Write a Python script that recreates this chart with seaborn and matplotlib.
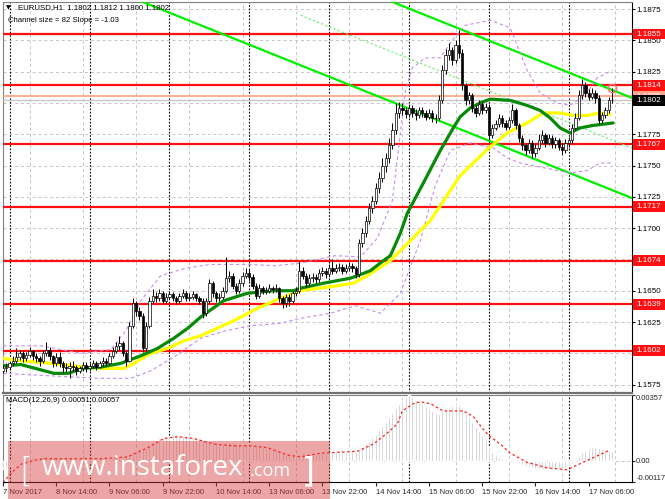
import matplotlib
matplotlib.use("Agg")
import matplotlib.pyplot as plt
import matplotlib.transforms as mtransforms
from matplotlib.patches import Rectangle
import seaborn as sns

# ---- price bars (EURUSD H1), bar 0 = 7 Nov 22:00 ----
first_open = 1.1586
closes = [
    1.1588, 1.1589, 1.1592, 1.1594, 1.1597, 1.1600, 1.1596, 1.1599, 1.1602, 1.1598,
    1.1596, 1.1594, 1.1600, 1.1603, 1.1598, 1.1592, 1.1597, 1.1592, 1.1589, 1.1588,
    1.1590, 1.1589, 1.1586, 1.1588, 1.1591, 1.1588, 1.1590, 1.1592, 1.1589, 1.1592,
    1.1594, 1.1592, 1.1598, 1.1602, 1.1606, 1.1608, 1.1600, 1.1594, 1.1622, 1.1640,
    1.1634, 1.1630, 1.1604, 1.1622, 1.1642, 1.1646, 1.1644, 1.1648, 1.1642, 1.1645,
    1.1647, 1.1644, 1.1642, 1.1646, 1.1648, 1.1644, 1.1645, 1.1647, 1.1644, 1.1642,
    1.1632, 1.1642, 1.1656, 1.1648, 1.1644, 1.1645, 1.1650, 1.1660, 1.1662, 1.1654,
    1.1650, 1.1656, 1.1662, 1.1664, 1.1661, 1.1654, 1.1646, 1.1652, 1.1650, 1.1650,
    1.1652, 1.1651, 1.1652, 1.1644, 1.1640, 1.1645, 1.1642, 1.1648, 1.1650, 1.1666,
    1.1662, 1.1656, 1.1660, 1.1661, 1.1659, 1.1664, 1.1666, 1.1663, 1.1668, 1.1666,
    1.1668, 1.1669, 1.1666, 1.1668, 1.1670, 1.1668, 1.1663, 1.1688, 1.1696, 1.1706,
    1.1716, 1.1722, 1.1732, 1.1740, 1.1750, 1.1756, 1.1766, 1.1778, 1.1792, 1.1796,
    1.1794, 1.1791, 1.1796, 1.1792, 1.1790, 1.1794, 1.1792, 1.1789, 1.1792, 1.1788,
    1.1788, 1.1802, 1.1826, 1.1838, 1.1842, 1.1834, 1.1846, 1.1840, 1.1814, 1.1802,
    1.1806, 1.1796, 1.1792, 1.1799, 1.1794, 1.1797, 1.1774, 1.1780, 1.1783, 1.1788,
    1.1784, 1.1781, 1.1786, 1.1794, 1.1782, 1.1772, 1.1766, 1.1762, 1.1768, 1.1760,
    1.1764, 1.1770, 1.1774, 1.1768, 1.1772, 1.1767, 1.1770, 1.1765, 1.1762, 1.1768,
    1.1770, 1.1780, 1.1788, 1.1806, 1.1814, 1.1808, 1.1805, 1.1808, 1.1804, 1.1786,
    1.1790, 1.1794, 1.1802, 1.1802]
highs = [
    1.1591, 1.1592, 1.1594, 1.1598, 1.1604, 1.1603, 1.1602, 1.1601, 1.1605, 1.1603,
    1.1600, 1.1598, 1.1603, 1.1609, 1.1605, 1.1599, 1.1600, 1.1601, 1.1594, 1.1592,
    1.1593, 1.1594, 1.1591, 1.1590, 1.1593, 1.1593, 1.1592, 1.1595, 1.1594, 1.1594,
    1.1597, 1.1596, 1.1600, 1.1605, 1.1609, 1.1614, 1.1610, 1.1602, 1.1625, 1.1644,
    1.1642, 1.1637, 1.1632, 1.1625, 1.1645, 1.1651, 1.1649, 1.1651, 1.1650, 1.1648,
    1.1650, 1.1649, 1.1646, 1.1648, 1.1651, 1.1650, 1.1648, 1.1650, 1.1648, 1.1646,
    1.1644, 1.1644, 1.1659, 1.1658, 1.1650, 1.1648, 1.1653, 1.1677, 1.1666, 1.1664,
    1.1656, 1.1659, 1.1665, 1.1668, 1.1667, 1.1663, 1.1656, 1.1655, 1.1654, 1.1653,
    1.1655, 1.1654, 1.1655, 1.1653, 1.1646, 1.1647, 1.1647, 1.1650, 1.1653, 1.1674,
    1.1669, 1.1664, 1.1663, 1.1664, 1.1663, 1.1667, 1.1669, 1.1668, 1.1671, 1.1675,
    1.1671, 1.1672, 1.1671, 1.1671, 1.1673, 1.1672, 1.1670, 1.1691, 1.1700, 1.1710,
    1.1720, 1.1726, 1.1736, 1.1745, 1.1756, 1.1760, 1.1772, 1.1784, 1.1800, 1.1801,
    1.1800, 1.1797, 1.1799, 1.1798, 1.1795, 1.1797, 1.1797, 1.1794, 1.1795, 1.1794,
    1.1791, 1.1806, 1.1830, 1.1843, 1.1848, 1.1845, 1.1850, 1.1858, 1.1843, 1.1816,
    1.1809, 1.1808, 1.1798, 1.1802, 1.1801, 1.1800, 1.1799, 1.1783, 1.1786, 1.1791,
    1.1790, 1.1786, 1.1789, 1.1799, 1.1796, 1.1784, 1.1774, 1.1768, 1.1771, 1.1770,
    1.1767, 1.1775, 1.1778, 1.1776, 1.1775, 1.1774, 1.1773, 1.1772, 1.1768, 1.1771,
    1.1773, 1.1783, 1.1792, 1.1810, 1.1819, 1.1817, 1.1811, 1.1812, 1.1810, 1.1806,
    1.1793, 1.1797, 1.1805, 1.1812]
lows = [
    1.1584, 1.1585, 1.1587, 1.1590, 1.1592, 1.1595, 1.1593, 1.1594, 1.1597, 1.1595,
    1.1593, 1.1590, 1.1592, 1.1598, 1.1595, 1.1589, 1.1590, 1.1589, 1.1584, 1.1585,
    1.1580, 1.1586, 1.1583, 1.1584, 1.1586, 1.1585, 1.1586, 1.1588, 1.1587, 1.1588,
    1.1590, 1.1590, 1.1591, 1.1596, 1.1600, 1.1603, 1.1598, 1.1590, 1.1593, 1.1620,
    1.1630, 1.1627, 1.1601, 1.1602, 1.1620, 1.1640, 1.1641, 1.1642, 1.1640, 1.1640,
    1.1643, 1.1642, 1.1639, 1.1640, 1.1644, 1.1642, 1.1642, 1.1643, 1.1642, 1.1639,
    1.1628, 1.1630, 1.1640, 1.1645, 1.1641, 1.1642, 1.1643, 1.1648, 1.1657, 1.1651,
    1.1647, 1.1648, 1.1654, 1.1660, 1.1658, 1.1651, 1.1643, 1.1644, 1.1647, 1.1647,
    1.1648, 1.1648, 1.1649, 1.1641, 1.1636, 1.1637, 1.1638, 1.1640, 1.1646, 1.1648,
    1.1659, 1.1653, 1.1654, 1.1657, 1.1656, 1.1657, 1.1662, 1.1660, 1.1661, 1.1663,
    1.1664, 1.1666, 1.1663, 1.1664, 1.1666, 1.1665, 1.1660, 1.1661, 1.1685, 1.1693,
    1.1703, 1.1712, 1.1719, 1.1728, 1.1737, 1.1745, 1.1752, 1.1763, 1.1775, 1.1788,
    1.1790, 1.1788, 1.1789, 1.1789, 1.1786, 1.1788, 1.1789, 1.1786, 1.1787, 1.1785,
    1.1784, 1.1786, 1.1800, 1.1823, 1.1834, 1.1830, 1.1832, 1.1836, 1.1810, 1.1798,
    1.1799, 1.1793, 1.1789, 1.1790, 1.1791, 1.1792, 1.1770, 1.1772, 1.1778, 1.1781,
    1.1781, 1.1778, 1.1779, 1.1784, 1.1779, 1.1769, 1.1762, 1.1758, 1.1760, 1.1756,
    1.1757, 1.1762, 1.1768, 1.1765, 1.1766, 1.1764, 1.1764, 1.1762, 1.1758, 1.1760,
    1.1765, 1.1768, 1.1778, 1.1786, 1.1803, 1.1805, 1.1802, 1.1803, 1.1800, 1.1783,
    1.1784, 1.1788, 1.1792, 1.1800]
opens = [first_open] + closes[:-1]
bars = list(range(len(closes)))

# ---- moving averages / envelope, read at sample bars ----
green_ma_bars = [0, 5.4, 15.3, 19.5, 24.3, 29.4, 35.4, 41.4, 46.5, 51.3, 55.5, 59.4, 66.3,
                 73.5, 81.3, 87.3, 89.4, 96.3, 104.4, 106.5, 110.4, 114.3, 116.4, 119.4,
                 121.5, 126.3, 131.4, 135.3, 137.4, 140.4, 143.4, 146.4, 152.4, 157.5,
                 161.4, 164.4, 167.4, 170.4, 173.4, 177.3, 180.3, 183.3]
green_ma = [1.1590, 1.1591, 1.1584, 1.1584, 1.1588, 1.1589, 1.1592, 1.1598, 1.1604, 1.1612,
            1.1620, 1.1629, 1.1642, 1.1648, 1.1650, 1.1650, 1.1652, 1.1656, 1.1660, 1.1662,
            1.1666, 1.1674, 1.1678, 1.1696, 1.1712, 1.1736, 1.1762, 1.1780, 1.1789, 1.1796,
            1.1800, 1.1803, 1.1802, 1.1798, 1.1794, 1.1788, 1.1780, 1.1776, 1.1780, 1.1782,
            1.1783, 1.1784]
yellow_ma_bars = [0, 5.4, 14.4, 24.3, 29.4, 36.3, 39.3, 44.4, 49.5, 54.3, 59.4, 69.3, 76.5,
                  83.4, 89.4, 100.5, 105.3, 109.5, 116.4, 122.4, 128.4, 131.4, 134.4, 137.4,
                  141.3, 146.4, 151.5, 157.5, 162.3, 167.4, 171.3, 175.5, 179.4, 182.4]
yellow_ma = [1.1596, 1.1594, 1.1592, 1.1589, 1.1588, 1.1588, 1.1592, 1.1600, 1.1604, 1.1610,
             1.1614, 1.1626, 1.1636, 1.1644, 1.1650, 1.1654, 1.1656, 1.1662, 1.1674, 1.1690,
             1.1706, 1.1718, 1.1730, 1.1742, 1.1752, 1.1765, 1.1776, 1.1784, 1.1792, 1.1792,
             1.1790, 1.1790, 1.1792, 1.1791]
band_up_bars = [0, 11.4, 23.4, 32.4, 36.9, 41.4, 47.4, 54.9, 62.4, 72.9, 81.9, 89.4, 99.9,
                107.4, 112.5, 117, 120.9, 123, 126.9, 131.4, 135, 138.9, 146.4, 152.4, 157.5,
                161.4, 166.5, 170.4, 174.9, 178.5, 183]
band_up = [1.1606, 1.1606, 1.1600, 1.1603, 1.1618, 1.1642, 1.1662, 1.1668, 1.1671, 1.1671,
           1.1670, 1.1672, 1.1678, 1.1677, 1.1692, 1.1722, 1.1810, 1.1828, 1.1836, 1.1836,
           1.1850, 1.1862, 1.1866, 1.1860, 1.1826, 1.1808, 1.1800, 1.1798, 1.1806, 1.1820,
           1.1826]
band_dn_bars = [0, 14.4, 29.4, 38.4, 44.4, 51.9, 59.4, 66.9, 74.4, 83.4, 89.4, 98.4, 105.9,
                113.4, 119.4, 125.4, 129.9, 134.4, 140.4, 147.3, 151.5, 155.4, 162.9, 170.4,
                175.5, 179.4, 183]
band_dn = [1.1584, 1.1582, 1.1580, 1.1580, 1.1586, 1.1598, 1.1612, 1.1618, 1.1622, 1.1624,
           1.1628, 1.1632, 1.1638, 1.1632, 1.1648, 1.1690, 1.1734, 1.1762, 1.1768, 1.1764,
           1.1756, 1.1752, 1.1748, 1.1744, 1.1746, 1.1752, 1.1752]

# ---- regression channel ----
chan_bars = [36.9, 189.0]
chan_top = [1.1966, 1.1804]
chan_bottom = [1.1886, 1.1724]
chan_mid_bars = [89.4, 189.0]
chan_mid = [1.1870, 1.1764]

# ---- levels ----
levels = [1.1855, 1.1814, 1.1767, 1.1717, 1.1674, 1.1639, 1.1602]
bid_price = 1.1802
ask_price = 1.18055
price_ticks = [1.1575, 1.1600, 1.1625, 1.1650, 1.1675, 1.1700, 1.1725, 1.1750,
               1.1775, 1.1800, 1.1825, 1.1850, 1.1875]

# ---- MACD(12,26,9), values in 1e-4 ----
macd_main = [
    -4.5, -3.6, -2.8, -1.8, -0.8, 0.3,
    1.2, 1.6, 1.9, 2.0, 2.1, 2.0, 2.2, 2.3, 2.1, 1.8, 1.8, 1.6,
    1.4, 1.3, 1.2, 1.1, 1.0, 1.0, 1.1, 1.0, 1.0, 1.1, 1.1, 1.2, 1.3, 1.3, 1.5, 1.8, 2.1, 2.5,
    2.6, 2.4, 3.4,
    5.0, 6.0, 6.6, 6.2, 7.0, 8.6, 10.0, 11.0, 12.0,
    12.6, 13.0, 13.4, 13.8, 14.0, 14.0, 13.8, 13.6, 13.4,
    13.0, 12.6, 12.0, 11.2, 10.8, 10.9, 10.6, 10.2, 9.8, 9.6,
    9.8, 9.9, 9.5, 9.0, 8.9, 9.0, 9.1, 9.0, 8.6, 7.9, 7.6,
    7.3, 7.0, 6.6, 6.2, 5.8, 5.0, 4.2, 3.8, 3.3, 3.2,
    3.1, 3.8, 4.0, 3.8, 3.7, 3.7, 3.6, 3.8,
    4.0, 4.1, 4.3, 4.5, 4.6, 4.7, 4.7, 4.8, 4.8, 4.8, 4.5,
    5.8, 7.2, 8.8, 10.6, 12.6,
    14.6, 16.8, 19.0, 21.2, 23.5, 26.0, 28.8,
    31.0, 32.8, 34.4, 35.7, 34.4, 32.8,
    31.8, 30.6, 29.6, 28.4, 27.0, 25.8,
    25.4, 26.8, 28.2, 29.4, 29.6, 30.0, 30.0,
    28.4, 26.0, 23.6, 21.0, 18.4, 16.2, 13.6, 11.0,
    7.2, 4.6, 3.0, 2.0, 1.2, 0.8,
    0.2, -0.2, -0.8, -1.6, -2.4, -3.0, -3.6, -4.0,
    -4.6, -4.6, -4.4, -4.4, -4.4, -4.4, -4.2,
    -4.2, -4.0, -3.6, -3.0, -2.0,
    0.4, 2.6, 4.4, 5.6, 6.6, 7.2, 7.6,
    6.6, 6.2, 5.8, 5.4, 5.1]
signal_bars = [0, 2.4, 5.4, 9.3, 12.3, 19.5, 29.4, 37.5, 43.5, 48.3, 52.5, 57.3, 63.3, 69.3,
               74.4, 79.5, 85.5, 89.4, 95.4, 106.5, 111.3, 115.5, 118.5, 120.0, 123.3,
               125.4, 128.4, 132.3, 138.3, 141.3, 144.3, 146.4, 149.4, 152.4, 157.5, 163.5,
               169.5, 174.3, 182.4]
signal = [-12.0, -7.0, -2.0, 0.0, 1.0, 1.0, 1.0, 2.0, 7.0, 12.0, 13.0, 12.0, 9.0, 8.0,
          8.0, 7.0, 3.0, 2.0, 4.0, 5.0, 9.0, 15.0, 20.0, 27.0, 31.0, 32.0, 31.0, 27.0,
          27.0, 24.0, 17.0, 13.0, 9.0, 4.0, -1.0, -4.0, -5.0, -1.0, 5.7]
macd_min, macd_max = -0.00117, 0.00357

label_bars = [0, 16, 32, 48, 64, 80, 96, 112, 128, 144, 160, 176]
label_text = ["7 Nov 2017", "8 Nov 14:00", "9 Nov 06:00", "9 Nov 22:00", "10 Nov 14:00",
              "13 Nov 06:00", "13 Nov 22:00", "14 Nov 14:00", "15 Nov 06:00",
              "15 Nov 22:00", "16 Nov 14:00", "17 Nov 06:00"]
grid_bars = [8, 24, 40, 56, 72, 88, 104, 120, 136, 152, 168, 184]
day_bars = [2, 26, 50, 74, 98, 122, 146, 170]

# ---- figure ----
sns.set_style("white")
plt.rcParams["font.family"] = ["Liberation Sans", "DejaVu Sans"]

W, H = 665, 499
FS = 5.8
fig = plt.figure(figsize=(W / 100, H / 100), dpi=100)
ax = fig.add_axes([3 / W, 1 - 393 / H, 629 / W, 391 / H])
axm = fig.add_axes([3 / W, 1 - 482 / H, 629 / W, 87 / H])

for a in (ax, axm):
    a.set_xlim(0.3, 189.0)
    for b in day_bars:
        a.axvline(b, color="black", lw=0.8, ls=(0, (1.5, 1.5)), zorder=1)
    a.set_xticks(grid_bars, minor=True)
    a.grid(which="minor", axis="x", color="#c4c4c4", lw=0.7, ls=(0, (3, 3)))
    a.spines["left"].set_color("#808080")
    a.spines["right"].set_color("black")
    a.spines["top"].set_color("#808080")
    a.spines["bottom"].set_color("black")
    a.tick_params(which="minor", length=0)

# main price panel
ax.set_ylim(1.15683, 1.18806)
ax.yaxis.tick_right()
ax.set_yticks(price_ticks)
ax.set_yticklabels([f"{v:.4f}" for v in price_ticks])
ax.tick_params(axis="y", which="major", labelsize=FS, length=2, pad=1.2, right=True,
               colors="black")
ax.set_xticks(label_bars)
ax.tick_params(axis="x", which="major", length=0, labelbottom=False)
ax.grid(which="major", axis="y", color="#c4c4c4", lw=0.7, ls=(0, (3, 3)))
ax.grid(which="major", axis="x", visible=False)
ax.spines["bottom"].set_color("#707070")
ax.spines["bottom"].set_linewidth(1.6)

for lv in levels:
    ax.axhline(lv, color="#ff1010", lw=1.6, zorder=3)
ax.axhline(ask_price, color="#ffa58a", lw=1.3, zorder=3)
ax.axhline(bid_price, color="#c8c8c8", lw=1.0, zorder=3)

# channel
sns.lineplot(x=chan_bars, y=chan_top, ax=ax, color="#00f000", lw=1.6, zorder=4)
sns.lineplot(x=chan_bars, y=chan_bottom, ax=ax, color="#00f000", lw=1.6, zorder=4)
sns.lineplot(x=chan_mid_bars, y=chan_mid, ax=ax, color="#66ee66", lw=0.8,
             linestyle=(0, (2, 2)), zorder=4)

# envelope and moving averages
sns.lineplot(x=band_up_bars, y=band_up, ax=ax, color="#c58cf0", lw=0.8,
             linestyle=(0, (3, 2.5)), zorder=4)
sns.lineplot(x=band_dn_bars, y=band_dn, ax=ax, color="#c58cf0", lw=0.8,
             linestyle=(0, (3, 2.5)), zorder=4)
sns.lineplot(x=yellow_ma_bars, y=yellow_ma, ax=ax, color="#ffff00", lw=2.3, zorder=5)
sns.lineplot(x=green_ma_bars, y=green_ma, ax=ax, color="#078a07", lw=2.3, zorder=5)

# candles
body_bottom = [min(o, c) for o, c in zip(opens, closes)]
body_height = [max(abs(c - o), 0.00002) for o, c in zip(opens, closes)]
body_color = ["white" if c >= o else "black" for o, c in zip(opens, closes)]
ax.vlines(bars, lows, highs, color="black", lw=0.7, zorder=6)
ax.bar(bars, body_height, bottom=body_bottom, width=0.7, color=body_color,
       edgecolor="black", linewidth=0.5, zorder=7)
ax.plot(bars[-1], highs[-1], marker="o", ms=6, mfc="none", mec="#ff7070", mew=1.0,
        zorder=8)

# price labels on the right (boxes over the axis labels)
tr = mtransforms.blended_transform_factory(ax.transAxes, ax.transData)
box_h = 0.00086
box_x, box_w = 1 + 1 / 629, 32 / 629


def price_box(value, face, z):
    ax.add_patch(Rectangle((box_x, value - box_h / 2), box_w, box_h, transform=tr,
                           facecolor=face, edgecolor="none", clip_on=False, zorder=z))
    ax.text(box_x + box_w / 2, value, f"{value:.4f}", transform=tr, fontsize=FS,
            color="white", va="center", ha="center", clip_on=False, zorder=z + 0.5)


for lv in levels:
    price_box(lv, "#ff1010", 20)
price_box(ask_price, "#ffa58a", 20)
price_box(bid_price, "black", 22)

# MACD panel
axm.set_ylim(macd_min, macd_max)
axm.bar(bars, [v * 1e-4 for v in macd_main], width=0.6, color="#c0c0c0", zorder=3)
sns.lineplot(x=signal_bars, y=[v * 1e-4 for v in signal], ax=axm, color="#ff2020",
             lw=0.9, linestyle=(0, (2, 2)), zorder=4)
axm.axhline(0, color="#c4c4c4", lw=0.7, ls=(0, (3, 3)), zorder=2)
axm.yaxis.tick_right()
axm.set_yticks([macd_min, 0, macd_max])
axm.set_yticklabels(["-0.00117", "0.00", "0.00357"])
axm.tick_params(axis="y", labelsize=5.5, length=2, pad=1.0, right=True)
yl = axm.get_yticklabels()
yl[0].set_va("bottom")
yl[2].set_va("top")
axm.set_xticks(label_bars)
axm.set_xticklabels(label_text, ha="left")
axm.tick_params(axis="x", which="major", labelsize=5.5, length=3, pad=2, bottom=True)
axm.grid(which="major", axis="x", visible=False)
for a in (ax, axm):
    a.set_xlabel("")
    a.set_ylabel("")

# header texts
fig.text(6 / W, 1 - 8 / H, "\u25bc", fontsize=4.5, color="black", va="center",
         family=["DejaVu Sans"])
fig.text(18 / W, 1 - 8 / H, "EURUSD,H1  1.1802 1.1812 1.1800 1.1802", fontsize=5.6,
         color="black", va="center")
fig.text(8 / W, 1 - 20 / H, "Channel size = 82 Slope = -1.03", fontsize=5.6,
         color="black", va="center")
fig.text(6 / W, 1 - 401 / H, "MACD(12,26,9) 0.00051 0.00057", fontsize=5.6,
         color="black", va="center")

# watermark
fig.patches.append(Rectangle((8 / W, 0), 322 / W, 58 / H, transform=fig.transFigure,
                             facecolor="#d83a3a", alpha=0.45, edgecolor="none",
                             zorder=10))
fig.text(19 / W, 1 - 472 / H, "[", fontsize=24, color="white", va="center",
         family=["DejaVu Sans"], fontweight="light", zorder=11)
fig.text(42 / W, 1 - 468 / H, "www.instaforex", fontsize=20, color="white",
         va="center", family=["Open Sans", "DejaVu Sans"], zorder=11)
fig.text(250 / W, 1 - 471 / H, ".com", fontsize=13, color="white", va="center",
         family=["Open Sans", "DejaVu Sans"], zorder=11)
fig.text(302 / W, 1 - 472 / H, "]", fontsize=24, color="white", va="center",
         family=["DejaVu Sans"], zorder=11)

fig.savefig("out.png", dpi=100)
